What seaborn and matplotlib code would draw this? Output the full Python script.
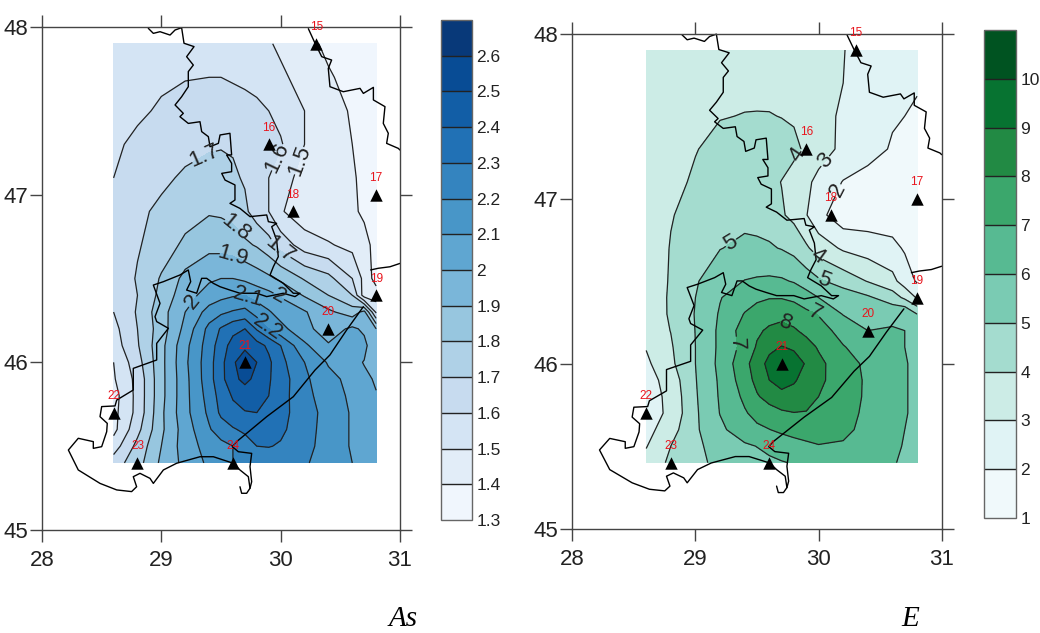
import numpy as np
import pandas as pd
import matplotlib
matplotlib.use("Agg")
import matplotlib.pyplot as plt
import seaborn as sns

# grid
lons = [28.6, 28.8, 29.0, 29.2, 29.4, 29.5, 29.6, 29.7, 29.8, 29.9, 30.0, 30.2, 30.4, 30.6, 30.7, 30.8]
lats = [47.9, 47.7, 47.5, 47.3, 47.1, 46.9, 46.7, 46.5, 46.4, 46.3, 46.2, 46.1, 46.0, 45.9, 45.8, 45.7, 45.6, 45.5, 45.4]

as_grid = [
    [1.54, 1.55, 1.56, 1.57, 1.57, 1.565, 1.56, 1.55, 1.53, 1.51, 1.48, 1.43, 1.38, 1.36, 1.35, 1.34],
    [1.54, 1.56, 1.58, 1.595, 1.60, 1.60, 1.59, 1.58, 1.57, 1.55, 1.52, 1.46, 1.41, 1.37, 1.35, 1.34],
    [1.54, 1.58, 1.615, 1.64, 1.65, 1.65, 1.645, 1.635, 1.62, 1.60, 1.57, 1.50, 1.44, 1.39, 1.36, 1.34],
    [1.58, 1.625, 1.65, 1.67, 1.69, 1.695, 1.69, 1.68, 1.66, 1.64, 1.61, 1.50, 1.45, 1.40, 1.37, 1.35],
    [1.60, 1.65, 1.68, 1.715, 1.73, 1.725, 1.715, 1.69, 1.65, 1.60, 1.535, 1.47, 1.43, 1.405, 1.39, 1.37],
    [1.63, 1.68, 1.72, 1.76, 1.79, 1.785, 1.77, 1.72, 1.65, 1.60, 1.51, 1.44, 1.42, 1.41, 1.39, 1.38],
    [1.63, 1.69, 1.75, 1.82, 1.87, 1.865, 1.85, 1.82, 1.79, 1.74, 1.66, 1.55, 1.51, 1.47, 1.42, 1.38],
    [1.62, 1.71, 1.81, 1.93, 1.985, 2.0, 2.0, 1.98, 1.95, 1.92, 1.88, 1.79, 1.73, 1.60, 1.47, 1.36],
    [1.61, 1.70, 1.83, 1.96, 2.04, 2.07, 2.09, 2.10, 2.06, 2.03, 1.99, 1.89, 1.80, 1.70, 1.45, 1.45],
    [1.60, 1.71, 1.86, 2.0, 2.14, 2.18, 2.21, 2.23, 2.16, 2.11, 2.06, 2.01, 1.92, 1.85, 1.93, 1.58],
    [1.57, 1.70, 1.85, 2.03, 2.23, 2.31, 2.37, 2.40, 2.29, 2.20, 2.13, 2.03, 1.95, 2.02, 1.98, 1.90],
    [1.55, 1.69, 1.87, 2.07, 2.25, 2.35, 2.44, 2.47, 2.44, 2.38, 2.30, 2.12, 2.01, 2.05, 2.03, 1.91],
    [1.50, 1.66, 1.87, 2.08, 2.26, 2.37, 2.48, 2.58, 2.50, 2.42, 2.33, 2.20, 2.09, 2.03, 1.995, 1.97],
    [1.49, 1.63, 1.87, 2.07, 2.26, 2.37, 2.47, 2.53, 2.47, 2.41, 2.35, 2.22, 2.13, 2.07, 2.02, 1.99],
    [1.46, 1.63, 1.87, 2.07, 2.24, 2.34, 2.41, 2.44, 2.44, 2.40, 2.34, 2.23, 2.15, 2.08, 2.04, 2.005],
    [1.47, 1.63, 1.88, 2.07, 2.22, 2.32, 2.37, 2.395, 2.40, 2.38, 2.33, 2.25, 2.16, 2.09, 2.05, 2.01],
    [1.47, 1.67, 1.88, 2.05, 2.19, 2.25, 2.29, 2.32, 2.34, 2.34, 2.32, 2.24, 2.16, 2.09, 2.05, 2.015],
    [1.55, 1.73, 1.90, 2.05, 2.14, 2.17, 2.20, 2.25, 2.30, 2.305, 2.29, 2.23, 2.16, 2.09, 2.05, 2.02],
    [1.65, 1.76, 1.92, 2.03, 2.12, 2.16, 2.20, 2.21, 2.22, 2.23, 2.23, 2.21, 2.16, 2.10, 2.07, 2.04],
]

e_grid = [
    [3.3, 3.4, 3.5, 3.55, 3.6, 3.58, 3.55, 3.5, 3.45, 3.35, 3.25, 3.02, 2.75, 2.55, 2.45, 2.35],
    [3.4, 3.55, 3.7, 3.8, 3.85, 3.83, 3.8, 3.7, 3.6, 3.45, 3.3, 3.0, 2.7, 2.4, 2.25, 2.1],
    [3.4, 3.65, 3.85, 3.97, 4.02, 4.03, 4.03, 3.98, 3.9, 3.65, 3.35, 2.85, 2.45, 2.1, 2.0, 1.85],
    [3.4, 3.7, 3.97, 4.2, 4.35, 4.37, 4.35, 4.3, 4.2, 3.85, 3.4, 2.8, 2.4, 1.9, 1.75, 1.6],
    [3.45, 3.8, 4.1, 4.35, 4.5, 4.38, 4.2, 3.98, 3.65, 3.2, 2.75, 1.95, 1.6, 1.4, 1.3, 1.25],
    [3.4, 3.95, 4.3, 4.55, 4.75, 4.7, 4.6, 4.1, 3.75, 3.05, 2.3, 1.4, 1.45, 1.5, 1.45, 1.35],
    [3.35, 4.05, 4.55, 4.97, 5.2, 5.17, 5.1, 4.95, 4.7, 4.15, 3.55, 2.85, 2.55, 2.25, 1.9, 1.6],
    [3.3, 4.1, 4.9, 5.6, 6.03, 6.12, 6.17, 6.12, 5.92, 5.55, 5.15, 4.6, 3.95, 3.3, 2.5, 1.9],
    [3.25, 4.15, 5.0, 5.95, 6.6, 6.82, 6.95, 6.95, 6.8, 6.4, 6.0, 5.55, 5.15, 4.5, 3.8, 2.9],
    [3.2, 4.15, 5.05, 6.1, 7.05, 7.4, 7.65, 7.75, 7.55, 7.25, 6.95, 5.95, 5.5, 5.7, 6.0, 5.0],
    [3.4, 4.02, 5.02, 6.2, 7.45, 7.85, 8.15, 8.3, 8.12, 7.75, 7.35, 6.7, 6.0, 6.1, 6.0, 5.7],
    [3.05, 3.9, 5.0, 6.2, 7.35, 8.1, 8.75, 9.05, 8.85, 8.4, 7.9, 7.05, 6.6, 6.15, 6.0, 5.8],
    [2.8, 3.8, 5.0, 6.25, 7.7, 8.5, 9.3, 9.9, 9.5, 8.9, 8.25, 7.4, 6.8, 6.3, 6.05, 5.85],
    [2.55, 3.45, 4.95, 6.15, 7.5, 8.3, 9.0, 9.45, 9.1, 8.65, 8.2, 7.5, 6.85, 6.3, 6.05, 5.85],
    [2.45, 3.3, 4.9, 6.1, 7.2, 7.9, 8.35, 8.65, 8.65, 8.35, 8.0, 7.45, 6.85, 6.3, 6.05, 5.85],
    [2.45, 3.25, 4.85, 6.03, 6.9, 7.3, 7.6, 7.85, 7.97, 7.95, 7.8, 7.35, 6.8, 6.3, 6.05, 5.85],
    [2.65, 3.6, 4.85, 5.8, 6.55, 6.8, 6.98, 7.2, 7.38, 7.45, 7.45, 7.2, 6.75, 6.25, 6.0, 5.85],
    [2.95, 4.0, 4.8, 5.4, 5.85, 6.02, 6.2, 6.4, 6.6, 6.8, 6.95, 6.9, 6.6, 6.15, 5.95, 5.8],
    [3.3, 4.2, 4.8, 5.2, 5.55, 5.7, 5.85, 5.95, 6.05, 6.1, 6.15, 6.2, 6.2, 6.05, 5.9, 5.75],
]

as_levels = [1.3, 1.4, 1.5, 1.6, 1.7, 1.8, 1.9, 2.0, 2.1, 2.2, 2.3, 2.4, 2.5, 2.6, 2.7]
e_levels = [1, 2, 3, 4, 5, 6, 7, 8, 9, 10, 11]

# stations
st_names = ["15", "16", "17", "18", "19", "20", "21", "22", "23", "24"]
st_lon = [30.3, 29.9, 30.8, 30.1, 30.8, 30.4, 29.7, 28.6, 28.8, 29.6]
st_lat = [47.9, 47.3, 47.0, 46.9, 46.4, 46.2, 46.0, 45.7, 45.4, 45.4]

# borders and coast (lon, lat)
ne_lon = [30.232, 30.288, 30.344, 30.427, 30.399, 30.413, 30.525, 30.665, 30.693, 30.777, 30.777, 30.874, 30.86, 30.902, 30.888, 30.986, 31.0]
ne_lat = [47.99, 47.903, 47.823, 47.803, 47.753, 47.644, 47.614, 47.634, 47.604, 47.64, 47.565, 47.525, 47.425, 47.366, 47.306, 47.276, 47.266]

west_lon = [28.891, 28.933, 28.989, 29.073, 29.115, 29.17, 29.19, 29.274, 29.212, 29.268, 29.226, 29.226, 29.17, 29.115, 29.184, 29.156, 29.226, 29.324, 29.338, 29.394, 29.408, 29.478, 29.492, 29.575, 29.589, 29.547, 29.589, 29.589, 29.506, 29.534, 29.617, 29.617, 29.575, 29.659, 29.743, 29.883, 29.897, 29.966, 29.925, 29.966, 29.98, 29.939, 29.911, 30.022, 30.106, 30.162, 30.12,
            30.022, 29.883, 29.799, 29.659, 29.575, 29.492, 29.436, 29.38, 29.338, 29.296, 29.212, 29.246, 29.226, 29.156, 29.017, 28.933, 28.989, 28.947, 28.961, 29.059, 28.961, 28.961, 28.765, 28.765, 28.626, 28.612, 28.5, 28.486, 28.547, 28.542, 28.5, 28.43, 28.43, 28.304, 28.221, 28.304, 28.486, 28.626, 28.751, 28.793, 28.765, 28.821, 28.905, 28.933, 29.017, 29.128, 29.324, 29.436, 29.603, 29.659, 29.729, 29.743, 29.715, 29.673, 29.659]
west_lat = [47.992, 47.962, 47.972, 47.952, 47.982, 47.996, 47.903, 47.883, 47.823, 47.773, 47.734, 47.644, 47.584, 47.535, 47.485, 47.465, 47.425, 47.435, 47.376, 47.346, 47.286, 47.306, 47.356, 47.366, 47.237, 47.237, 47.187, 47.137, 47.127, 47.087, 47.058, 46.968, 46.948, 46.918, 46.869, 46.879, 46.839, 46.829, 46.809, 46.73, 46.63, 46.571, 46.521, 46.471, 46.412, 46.412, 46.392,
            46.412, 46.392, 46.412, 46.412, 46.431, 46.451, 46.471, 46.501, 46.501, 46.412, 46.431, 46.481, 46.551, 46.521, 46.481, 46.461, 46.352, 46.272, 46.243, 46.203, 46.113, 46.014, 45.964, 45.835, 45.775, 45.74, 45.736, 45.676, 45.636, 45.586, 45.497, 45.487, 45.527, 45.547, 45.477, 45.358, 45.278, 45.239, 45.229, 45.258, 45.318, 45.338, 45.308, 45.278, 45.358, 45.398, 45.437, 45.437, 45.398, 45.358, 45.318, 45.249, 45.219, 45.219, 45.258]

coast_lon = [30.693, 30.553, 30.441, 30.413, 30.288, 30.106, 29.883, 29.631, 29.595, 29.645, 29.757, 29.743, 29.757, 29.743]
coast_lat = [46.332, 46.193, 46.074, 46.044, 45.954, 45.795, 45.676, 45.527, 45.497, 45.467, 45.457, 45.378, 45.288, 45.249]

east_lon = [30.754, 30.818, 30.916, 31.0]
east_lat = [46.551, 46.561, 46.57, 46.59]

# contour labels: text position on the map
as_label_pos = [(29.37, 47.21), (29.98, 47.22), (30.13, 47.21), (29.59, 46.78), (29.59, 46.61),
                (29.99, 46.67), (29.25, 46.37), (29.98, 46.39), (29.73, 46.39), (29.88, 46.2)]
e_label_pos = [(29.84, 47.26), (30.05, 47.23), (30.11, 47.07), (29.29, 46.73), (29.98, 46.64),
               (30.04, 46.5), (29.97, 46.31), (29.73, 46.24), (29.31, 46.12)]

sns.set_theme(style="white")
plt.rcParams["font.family"] = ["Liberation Sans"]

W, H = 1040, 633
fig = plt.figure(figsize=(W / 100, H / 100), dpi=100)


def px_axes(x0, x1, y0, y1):
    # pixel box of the reference, y from the top
    return fig.add_axes([x0 / W, 1 - y1 / H, (x1 - x0) / W, (y1 - y0) / H])


stations = pd.DataFrame({"lon": st_lon, "lat": st_lat, "name": st_names})


def draw_map(ax, cax, grid, levels, cmap, label_pos):
    ax.set_facecolor("white")
    z = np.array(grid)
    cf = ax.contourf(lons, lats, z, levels=levels, cmap=cmap)
    cs = ax.contour(lons, lats, z, levels=levels[1:-1], colors="#222222", linewidths=0.9)
    labels = ax.clabel(cs, manual=label_pos, fmt="%g", fontsize=16, inline=True, inline_spacing=2)
    for t in labels:
        t.set_color("#222222")

    ax.plot(ne_lon, ne_lat, color="black", lw=1.0, clip_on=False)
    ax.plot(west_lon, west_lat, color="black", lw=1.0, clip_on=False)
    ax.plot(coast_lon, coast_lat, color="black", lw=1.0, clip_on=False)
    ax.plot(east_lon, east_lat, color="black", lw=1.0, clip_on=False)

    sns.scatterplot(data=stations, x="lon", y="lat", marker="^", color="black", s=80,
                    linewidth=0, ax=ax, zorder=5, clip_on=False)
    for _, row in stations.iterrows():
        ax.annotate(row["name"], (row["lon"], row["lat"]), xytext=(0, 12), textcoords="offset points",
                    ha="center", va="center", color="#e8141c", fontsize=8.5, zorder=6)

    ax.set_xlim(28, 31)
    ax.set_ylim(45, 48)
    ax.set_xlabel("")
    ax.set_ylabel("")
    ax.set_xticks([28, 29, 30, 31])
    ax.set_yticks([45, 46, 47, 48])
    ax.tick_params(axis="both", which="major", length=8.5, width=1.0, color="#444444", labelcolor="#222222",
                   labelsize=16, top=True, right=True, left=True, bottom=True, pad=1.5)
    ax.tick_params(axis="x", pad=6)
    for side in ax.spines:
        ax.spines[side].set_color("#444444")
        ax.spines[side].set_linewidth(1.0)

    cb = fig.colorbar(cf, cax=cax, ticks=levels[:-1], format="%g", drawedges=True)
    cb.outline.set_edgecolor("#666666")
    cb.outline.set_linewidth(1.0)
    cb.dividers.set_color("#222222")
    cb.dividers.set_linewidth(1.0)
    cax.tick_params(length=0, pad=3, labelsize=12.5, labelcolor="#222222")


ax_l = px_axes(42, 400, 27, 530)
cax_l = px_axes(441, 472, 20, 520)
draw_map(ax_l, cax_l, as_grid, as_levels, sns.color_palette("Blues", as_cmap=True), as_label_pos)

ax_r = px_axes(572.3, 941.7, 33.5, 528.7)
cax_r = px_axes(984, 1016, 30, 518)
draw_map(ax_r, cax_r, e_grid, e_levels, sns.color_palette("BuGn", as_cmap=True), e_label_pos)

fig.text(403 / W, 1 - 626 / H, "As", family="Liberation Serif", style="italic", fontsize=21,
         ha="center", va="baseline", color="black")
fig.text(910 / W, 1 - 626 / H, "E", family="Liberation Serif", style="italic", fontsize=21,
         ha="center", va="baseline", color="black")

fig.savefig("out.png", dpi=100)
